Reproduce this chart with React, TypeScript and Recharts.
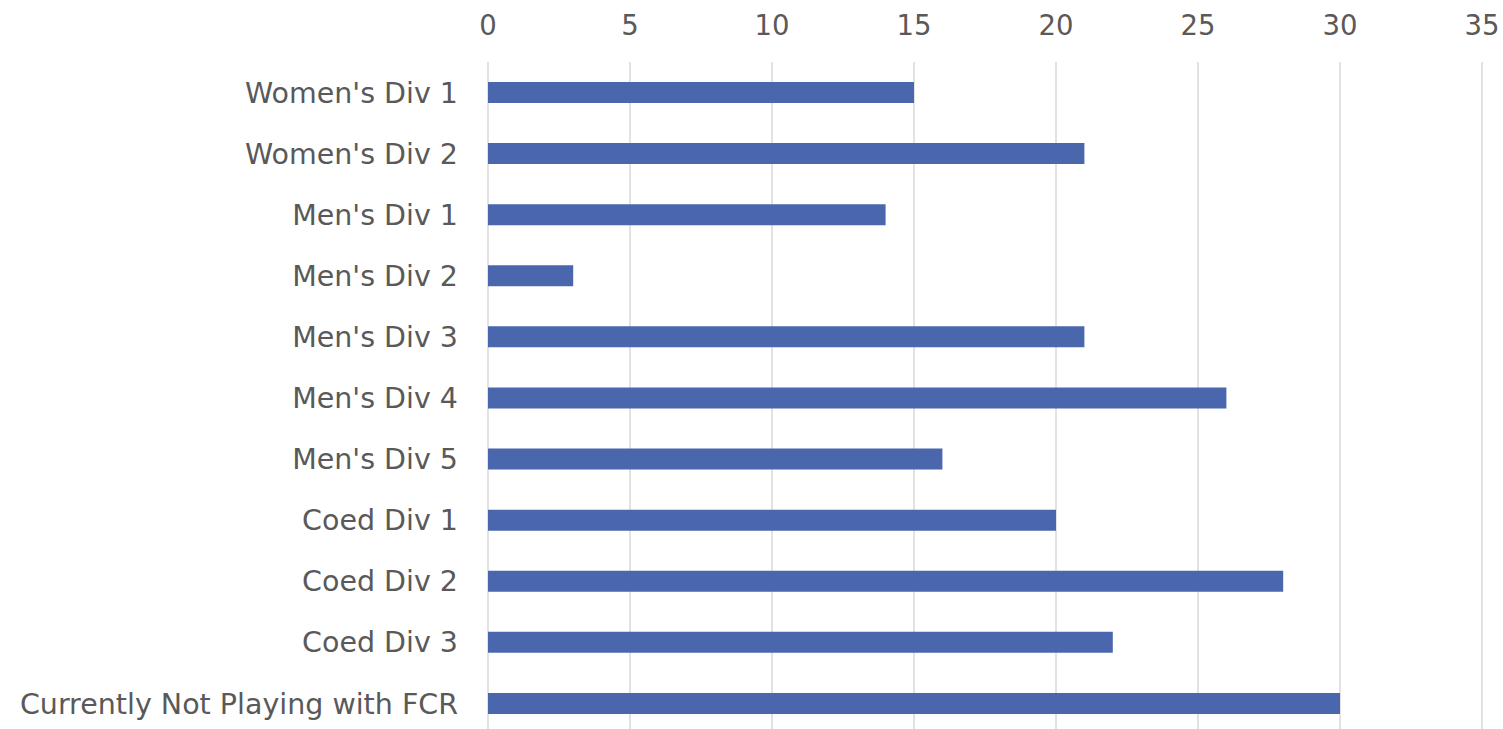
import { BarChart, Bar, XAxis, YAxis, CartesianGrid } from 'recharts'

const categories = [
  "Women's Div 1",
  "Women's Div 2",
  "Men's Div 1",
  "Men's Div 2",
  "Men's Div 3",
  "Men's Div 4",
  "Men's Div 5",
  'Coed Div 1',
  'Coed Div 2',
  'Coed Div 3',
  'Currently Not Playing with FCR',
]
const counts = [15, 21, 14, 3, 21, 26, 16, 20, 28, 22, 30]
const xTicks = [0, 5, 10, 15, 20, 25, 30, 35]

const data = categories.map((name, i) => ({ name, value: counts[i] }))

const TEXT = '#595959'
const FONT = 'DejaVu Sans'

export default function App() {
  return (
    <div style={{ position: 'absolute', left: 0, top: 0, width: 1503, height: 729, overflow: 'hidden', background: '#fff' }}>
      <BarChart
        width={1503}
        height={734}
        data={data}
        layout="vertical"
        margin={{ top: 0, right: 21, left: 0, bottom: 0 }}
        barCategoryGap={0}
      >
        <CartesianGrid horizontal={false} stroke="#d9d9d9" strokeWidth={1.5} />
        <XAxis
          type="number"
          orientation="top"
          domain={[0, 35]}
          ticks={xTicks}
          height={62}
          axisLine={false}
          tickLine={false}
          tickMargin={21}
          tick={{ fill: TEXT, fontSize: 27.5, fontFamily: FONT }}
        />
        <YAxis
          type="category"
          dataKey="name"
          width={488}
          axisLine={false}
          tickLine={false}
          tickMargin={24}
          interval={0}
          tick={{ fill: TEXT, fontSize: 28.5, fontFamily: FONT }}
        />
        <Bar dataKey="value" fill="#4a67ad" barSize={21} isAnimationActive={false} />
      </BarChart>
    </div>
  )
}
